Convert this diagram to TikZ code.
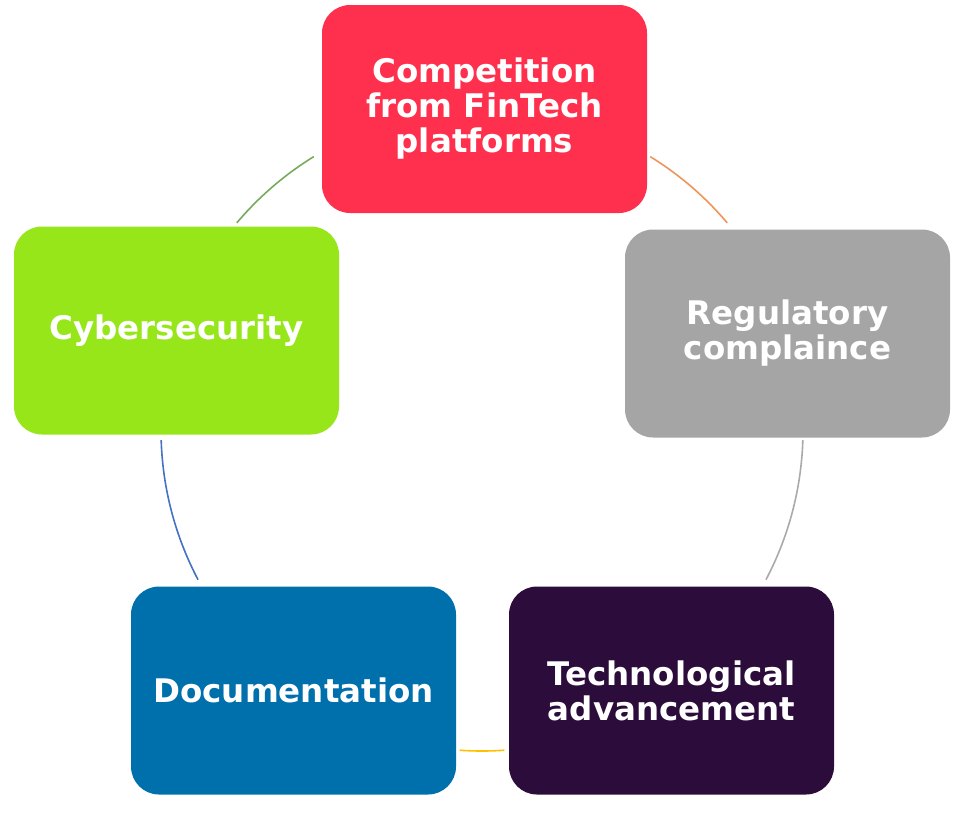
\documentclass[tikz,border=0pt]{standalone}
\usepackage{fontspec}
\setmainfont{DejaVu Sans}
\begin{document}
\begin{tikzpicture}[x=1pt,y=-1pt,
  box/.style={rounded corners=28pt, minimum width=325pt, minimum height=208pt, inner sep=0pt,
    text=white, font=\bfseries\fontsize{32.5}{35}\selectfont, align=center},
  link/.style={line width=1.6pt}]
\definecolor{cRed}{RGB}{254,48,78}
\definecolor{cGray}{RGB}{165,165,165}
\definecolor{cPurple}{RGB}{44,12,58}
\definecolor{cBlue}{RGB}{0,112,173}
\definecolor{cGreen}{RGB}{150,230,25}
\definecolor{aGreen}{RGB}{120,170,90}
\definecolor{aOrange}{RGB}{237,150,90}
\definecolor{aGray}{RGB}{170,170,170}
\definecolor{aBlue}{RGB}{68,114,196}
\definecolor{aYellow}{RGB}{255,192,0}
\useasboundingbox (0,0) rectangle (960,817);
\coordinate (O) at (482,430);
\node[box, fill=cRed] (comp) at (484.5,109) {Competition\\from FinTech\\platforms};
\node[box, fill=cGray] (reg) at (787.5,333.5) {Regulatory\\complaince};
\node[box, fill=cPurple] (tech) at (671.5,690.5) {Technological\\advancement};
\node[box, fill=cBlue] (doc) at (293.5,690.5) {Documentation};
\node[box, fill=cGreen] (cyber) at (176.5,330.5) {Cybersecurity};
% arcs (y axis points down, so angles are mirrored)
\draw[link, aOrange] ([shift={(-58.4:321)}]O) arc[start angle=-58.4, end angle=-40.2, radius=321];
\draw[link, aGray] ([shift={(1.8:321)}]O) arc[start angle=1.8, end angle=27.8, radius=321];
\draw[link, aYellow] ([shift={(86:321)}]O) arc[start angle=86, end angle=94, radius=321];
\draw[link, aBlue] ([shift={(152.2:321)}]O) arc[start angle=152.2, end angle=178.2, radius=321];
\draw[link, aGreen] ([shift={(-139.8:321)}]O) arc[start angle=-139.8, end angle=-121.6, radius=321];
\end{tikzpicture}
\end{document}
